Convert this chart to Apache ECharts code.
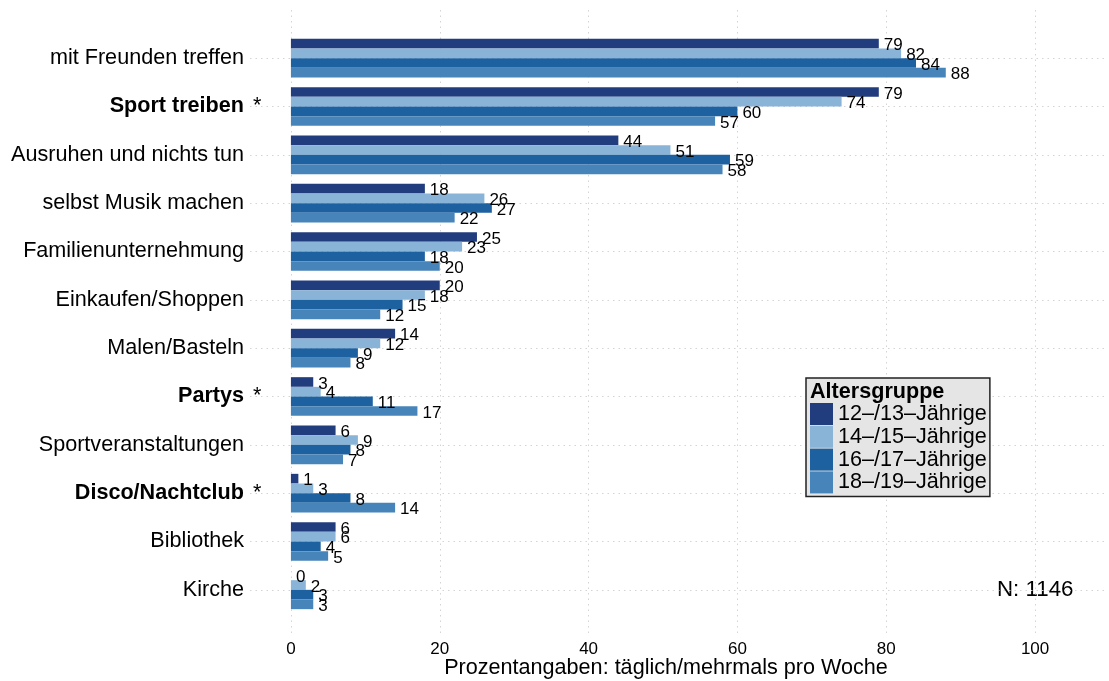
<!DOCTYPE html>
<html>
<head>
<meta charset="utf-8">
<script src="https://cdn.jsdelivr.net/npm/echarts@6/dist/echarts.min.js"></script>
<style>html,body{margin:0;padding:0;background:#fff;}#c{width:1109px;height:681px;}</style>
</head>
<body>
<div id="c"></div>
<script>
const categories = ["mit Freunden treffen","Sport treiben *","Ausruhen und nichts tun","selbst Musik machen","Familienunternehmung","Einkaufen/Shoppen","Malen/Basteln","Partys *","Sportveranstaltungen","Disco/Nachtclub *","Bibliothek","Kirche"];
const seriesNames = ["12–/13–Jährige","14–/15–Jährige","16–/17–Jährige","18–/19–Jährige"];
const age12_13 = [79,79,44,18,25,20,14,3,6,1,6,0];
const age14_15 = [82,74,51,26,23,18,12,4,9,3,6,2];
const age16_17 = [84,60,59,27,18,15,9,11,8,8,4,3];
const age18_19 = [88,57,58,22,20,12,8,17,7,14,5,3];
const xTicks = [0,20,40,60,80,100];
const colors = ["#223d7e","#8ab4d7","#1d61a0","#4784b9"];

const FONT = "'Liberation Sans', Arial, Helvetica, sans-serif";
const FS = 21.6;
const chart = echarts.init(document.getElementById('c'), null, {renderer:'canvas'});
const allData = [age12_13, age14_15, age16_17, age18_19];
const XMIN = -5.5, XMAX = 109.8;

const series = allData.map((d, i) => ({
  name: seriesNames[i],
  type: 'bar',
  xAxisIndex: 0,
  yAxisIndex: 0,
  data: d,
  barGap: '0%',
  barCategoryGap: '20%',
  itemStyle: {color: colors[i]},
  label: {
    show: true, position: 'right', distance: 5, offset: [0, 2],
    fontSize: 17, color: '#000', fontFamily: FONT
  },
  z: 3
}));

const option = {
  animation: false,
  backgroundColor: '#fff',
  textStyle: {fontFamily: FONT},
  grid: [
    {left: 250, right: 1, top: 34, bottom: 67},
    {left: 250, right: 1, top: 10, bottom: 44}
  ],
  xAxis: [
    {type: 'value', gridIndex: 0, min: XMIN, max: XMAX, show: false},
    {type: 'value', gridIndex: 1, min: XMIN, max: XMAX,
     axisLine: {show: false},
     axisTick: {show: false, customValues: xTicks},
     axisLabel: {customValues: xTicks, fontSize: 17, color: '#000', margin: 4, fontFamily: FONT},
     splitLine: {show: true, lineStyle: {color: '#d4d4d4', type: [1.5, 4], width: 1}}
    }
  ],
  yAxis: [
    {type: 'category', gridIndex: 0, data: categories, inverse: true, position: 'left',
     axisLine: {show: false}, axisTick: {show: false}, splitLine: {show: false},
     axisLabel: {
       margin: 6, fontSize: FS, color: '#000', fontFamily: FONT,
       formatter: function (v) {
         if (v.endsWith(' *')) return '{b|' + v.slice(0, -2) + '}';
         return v;
       },
       rich: {
         b: {fontWeight: 'bold', fontSize: FS, color: '#000', fontFamily: FONT}
       }
     }
    },
    {type: 'value', gridIndex: 0, inverse: true, min: -0.5, max: 11.5, position: 'right',
     axisLine: {show: false}, axisLabel: {show: false},
     axisTick: {show: false, customValues: [0,1,2,3,4,5,6,7,8,9,10,11]},
     splitLine: {show: true, lineStyle: {color: '#d4d4d4', type: [1.5, 4], width: 1}}
    },
    {type: 'value', gridIndex: 1, min: 0, max: 1, show: false},
    {type: 'category', gridIndex: 0, data: categories, inverse: true, position: 'left',
     axisLine: {show: false}, axisTick: {show: false}, splitLine: {show: false},
     axisLabel: {
       margin: -3, align: 'left', fontSize: FS, color: '#000', fontFamily: FONT,
       padding: [0, 0, 4, 0],
       formatter: function (v) { return v.endsWith(' *') ? '*' : ''; }
     }
    }
  ],
  legend: {
    orient: 'vertical', left: 806, top: 378,
    data: seriesNames,
    icon: 'rect', itemWidth: 23, itemHeight: 22, itemGap: 0.8,
    backgroundColor: '#e5e5e5', borderColor: '#222', borderWidth: 1.5,
    padding: [25, 3, 3, 4],
    textStyle: {fontSize: FS, color: '#000', fontFamily: FONT, lineHeight: 22},
    selectedMode: false
  },
  graphic: [
    {type: 'text', left: 810, top: 381, z: 100,
     style: {text: 'Altersgruppe', fontSize: FS, fontWeight: 'bold', fill: '#000', fontFamily: FONT}},
    {type: 'text', left: 997, top: 579,
     style: {text: 'N: 1146', fontSize: 22.3, fill: '#000', fontFamily: FONT}},
    {type: 'text', x: 666, y: 668,
     style: {text: 'Prozentangaben: täglich/mehrmals pro Woche', fontSize: FS, fill: '#000', fontFamily: FONT, textAlign: 'center', textVerticalAlign: 'middle'}}
  ],
  series: series
};
chart.setOption(option);
</script>
</body>
</html>
